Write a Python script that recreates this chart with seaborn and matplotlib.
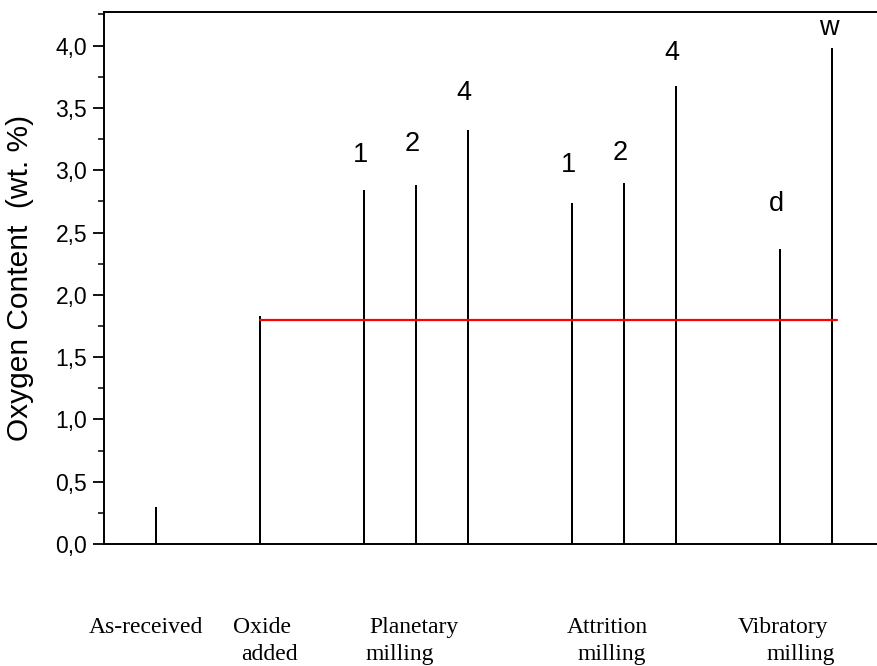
import matplotlib
matplotlib.use("Agg")
import matplotlib.pyplot as plt
from matplotlib.ticker import MultipleLocator
import seaborn as sns
import pandas as pd

# ---- data ----
positions = [1, 3, 5, 6, 7, 9, 10, 11, 13, 14]
oxygen = [0.30, 1.83, 2.84, 2.88, 3.32, 2.74, 2.90, 3.68, 2.37, 3.98]
bar_labels = ["", "", "1", "2", "4", "1", "2", "4", "d", "w"]
label_y = [0, 0, 3.12, 3.21, 3.62, 3.04, 3.14, 3.94, 2.73, 4.14]
ref_level = 1.80
group_names = [["As-received"], ["Oxide", "added"], ["Planetary", "milling"],
               ["Attrition", "milling"], ["Vibratory", "milling"]]
group_x = [[0.81], [3.04, 3.19], [5.96, 5.68], [9.67, 9.77], [13.06, 13.39]]
yticks = [0.0, 0.5, 1.0, 1.5, 2.0, 2.5, 3.0, 3.5, 4.0]
ytick_labels = ["0,0", "0,5", "1,0", "1,5", "2,0", "2,5", "3,0", "3,5", "4,0"]

df = pd.DataFrame({"pos": positions, "oxygen": oxygen})

sns.set_theme(style="white")
plt.rcParams["font.family"] = ["Liberation Sans", "DejaVu Sans"]

fig = plt.figure(figsize=(8.77, 6.66), dpi=100)
ax = fig.add_axes([104 / 877, 1 - 544 / 666, 1 - 104 / 877, (544 - 12) / 666])

sns.barplot(data=df, x="pos", y="oxygen", native_scale=True, width=0.05,
            color="black", saturation=1, linewidth=0, ax=ax)

ref_df = pd.DataFrame({"x": [positions[1], positions[-1] + 0.1],
                       "y": [ref_level, ref_level]})
sns.lineplot(data=ref_df, x="x", y="y", color="#ff0000", linewidth=1.6, ax=ax)

for x, lab, ly in zip(positions, bar_labels, label_y):
    if lab:
        ax.text(x - 0.07, ly, lab, ha="center", va="center", fontsize=19.5, color="black")

for names, xs in zip(group_names, group_x):
    for i, (n, gx) in enumerate(zip(names, xs)):
        ax.text(gx, -0.67 - i * 0.215, n, ha="center", va="center",
                fontsize=17, family=["Liberation Serif", "DejaVu Serif"],
                color="black", transform=ax.transData, clip_on=False)

ax.set_xlim(0, (877 - 104) / 52)
ax.set_ylim(0, 4.27)
ax.set_xticks([])
ax.set_yticks(yticks)
ax.set_yticklabels(ytick_labels, fontsize=16.5)
ax.yaxis.set_minor_locator(MultipleLocator(0.25))
ax.tick_params(axis="y", which="major", direction="out", length=8, width=1.3,
               left=True, pad=4, colors="black")
ax.tick_params(axis="y", which="minor", direction="out", length=4.5, width=1.3,
               left=True)
ax.set_xlabel("")
ax.set_ylabel("Oxygen Content  (wt. %)", fontsize=21.5, color="black")
ax.yaxis.set_label_coords(-0.090, 0.5)

for side in ["left", "bottom", "top"]:
    ax.spines[side].set_visible(True)
    ax.spines[side].set_color("black")
    ax.spines[side].set_linewidth(1.4)
ax.spines["right"].set_visible(False)
ax.grid(False)

fig.savefig("out.png", dpi=100)
